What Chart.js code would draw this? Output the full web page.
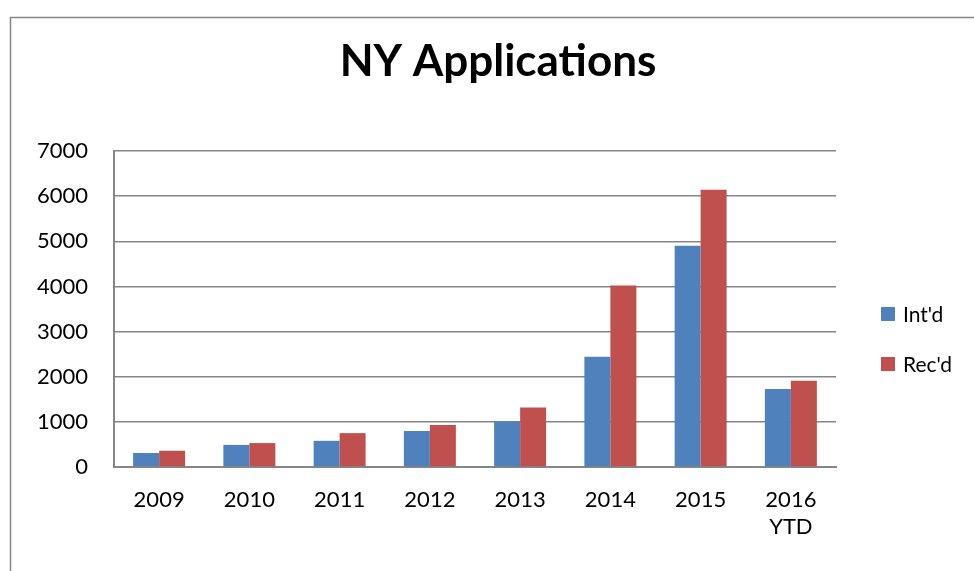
<!DOCTYPE html>
<html>
<head>
<meta charset="utf-8">
<script src="https://cdn.jsdelivr.net/npm/chart.js@4.4.1/dist/chart.umd.min.js"></script>
<style>
    html, body { margin: 0; padding: 0; background: #fff; }
    #wrap { width: 974px; height: 571px; position: relative; }
</style>
</head>
<body>
<div id="wrap"><canvas id="nyChart"></canvas></div>
<script>
// 数据
const chartTitle = 'NY Applications';
const years = ['2009', '2010', '2011', '2012', '2013', '2014', '2015', ['2016', 'YTD']];
const intdValues = [310, 490, 580, 800, 1010, 2440, 4900, 1730];
const recdValues = [360, 530, 750, 930, 1320, 4020, 6140, 1910];
const seriesNames = ["Int'd", "Rec'd"];
const seriesColors = ['#4F81BD', '#C0504D'];
const yTicks = [0, 1000, 2000, 3000, 4000, 5000, 6000, 7000];

const gridColor = '#868686';
const fontFamily = "Lato, 'Open Sans', sans-serif";

// 外框、标题、右侧图例
const framePlugin = {
    id: 'frame',
    afterDraw(chart) {
        const c = chart.ctx;
        c.save();
        c.strokeStyle = gridColor;
        c.lineWidth = 1.5;
        c.beginPath();
        c.moveTo(10.5, 600);
        c.lineTo(10.5, 17.5);
        c.lineTo(1000, 17.5);
        c.stroke();

        c.fillStyle = '#000';
        c.font = 'bold 44px ' + fontFamily;
        c.textAlign = 'center';
        c.textBaseline = 'middle';
        c.fillText(chartTitle, 498, 62);

        c.font = '21px ' + fontFamily;
        c.textAlign = 'left';
        chart.data.datasets.forEach((ds, i) => {
            const cy = 314 + i * 50;
            c.fillStyle = ds.backgroundColor;
            c.fillRect(881, cy - 7, 14, 14);
            c.fillStyle = '#000';
            c.fillText(ds.label, 903, cy + 1);
        });
        c.restore();
    }
};

const ctx = document.getElementById('nyChart').getContext('2d');
new Chart(ctx, {
    type: 'bar',
    data: {
        labels: years,
        datasets: [
            { label: seriesNames[0], data: intdValues, backgroundColor: seriesColors[0] },
            { label: seriesNames[1], data: recdValues, backgroundColor: seriesColors[1] }
        ]
    },
    options: {
        responsive: true,
        maintainAspectRatio: false,
        animation: false,
        categoryPercentage: 0.576,
        barPercentage: 1.0,
        layout: { padding: { left: 0, right: 138, top: 151, bottom: 24 } },
        scales: {
            x: {
                grid: { display: false, drawTicks: false },
                border: { display: true, color: gridColor, width: 2 },
                ticks: {
                    color: '#000',
                    padding: 20,
                    maxRotation: 0,
                    font: { family: fontFamily, size: 22 }
                },
                afterFit: (scale) => { scale.height = 80; }
            },
            y: {
                min: 0,
                max: 7000,
                afterBuildTicks: (scale) => { scale.ticks = yTicks.map(v => ({ value: v })); },
                grid: { color: gridColor, lineWidth: 1.5, drawTicks: false },
                border: { display: true, color: gridColor, width: 2 },
                ticks: {
                    color: '#000',
                    padding: 26,
                    font: { family: fontFamily, size: 22 },
                    callback: (value) => String(value)
                },
                afterFit: (scale) => { scale.width = 114; }
            }
        },
        plugins: {
            legend: { display: false },
            tooltip: { enabled: false },
            title: { display: false }
        }
    },
    plugins: [framePlugin]
});
</script>
</body>
</html>
